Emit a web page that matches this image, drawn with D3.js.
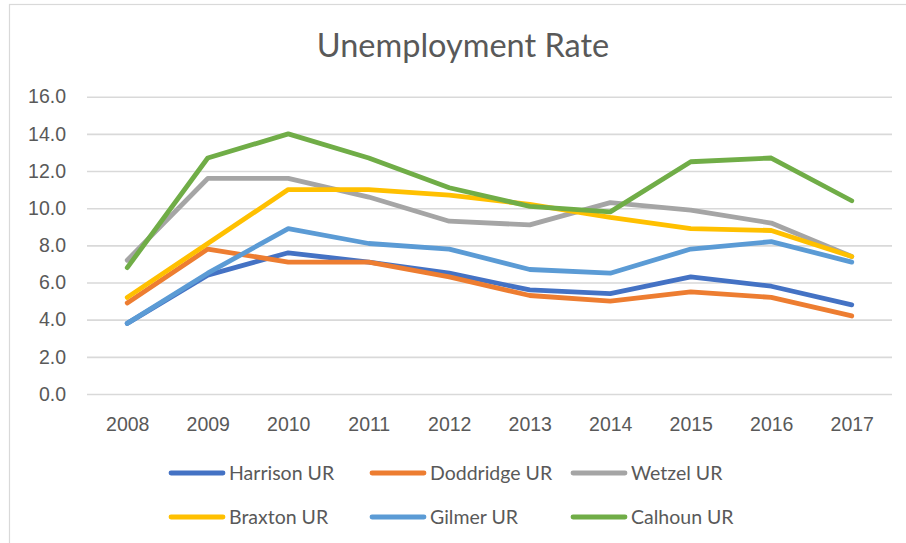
<!DOCTYPE html>
<html>
<head>
<meta charset="utf-8">
<script src="https://cdn.jsdelivr.net/npm/d3@7"></script>
<style>
  body { margin: 0; background: #fff; }
  svg { display: block; font-family: Lato, "Open Sans", sans-serif; }
  .tick text { fill: #595959; font-size: 19.5px; }
</style>
</head>
<body>
<svg id="chart" width="906" height="543"></svg>
<script>
// data
const years = ["2008", "2009", "2010", "2011", "2012", "2013", "2014", "2015", "2016", "2017"]
const harrison = [3.8, 6.4, 7.6, 7.1, 6.5, 5.6, 5.4, 6.3, 5.8, 4.8]
const doddridge = [4.9, 7.8, 7.1, 7.1, 6.3, 5.3, 5.0, 5.5, 5.2, 4.2]
const wetzel = [7.2, 11.6, 11.6, 10.6, 9.3, 9.1, 10.3, 9.9, 9.2, 7.4]
const braxton = [5.2, 8.1, 11.0, 11.0, 10.7, 10.2, 9.5, 8.9, 8.8, 7.4]
const gilmer = [3.8, 6.5, 8.9, 8.1, 7.8, 6.7, 6.5, 7.8, 8.2, 7.1]
const calhoun = [6.8, 12.7, 14.0, 12.7, 11.1, 10.1, 9.8, 12.5, 12.7, 10.4]
const seriesNames = ["Harrison UR", "Doddridge UR", "Wetzel UR", "Braxton UR", "Gilmer UR", "Calhoun UR"]
const yTicks = [0, 2, 4, 6, 8, 10, 12, 14, 16]

const colors = ["#4472C4", "#ED7D31", "#A5A5A5", "#FFC000", "#5B9BD5", "#70AD47"]
const series = [harrison, doddridge, wetzel, braxton, gilmer, calhoun]
  .map((values, i) => ({ name: seriesNames[i], color: colors[i], values }))

const svg = d3.select("#chart")

// chart frame
svg.append("rect")
  .attr("x", 9.5).attr("y", 4.5)
  .attr("width", 930).attr("height", 560)
  .attr("fill", "none").attr("stroke", "#d9d9d9").attr("stroke-width", 1.2)

const plotLeft = 87, plotRight = 892, plotTop = 96.7, plotBottom = 394

const x = d3.scalePoint().domain(years).range([plotLeft, plotRight]).padding(0.5)
const y = d3.scaleLinear().domain([0, 16]).range([plotBottom, plotTop])

// y axis + gridlines
const yAxis = svg.append("g")
  .attr("transform", `translate(${plotLeft},0)`)
  .call(d3.axisLeft(y).tickValues(yTicks).tickSize(-(plotRight - plotLeft)).tickPadding(21).tickFormat(d3.format(".1f")))
yAxis.select(".domain").remove()
yAxis.selectAll(".tick line").attr("stroke", "#d9d9d9").attr("stroke-width", 1.6)

// x axis labels
const xAxis = svg.append("g")
  .attr("transform", `translate(0,${plotBottom})`)
  .call(d3.axisBottom(x).tickSize(0).tickPadding(23))
xAxis.select(".domain").remove()

// lines
const line = d3.line()
  .x((d, i) => x(years[i]))
  .y(d => y(d))

svg.append("g")
  .selectAll("path")
  .data(series)
  .join("path")
  .attr("d", d => line(d.values))
  .attr("fill", "none")
  .attr("stroke", d => d.color)
  .attr("stroke-width", 4.8)
  .attr("stroke-linecap", "round")
  .attr("stroke-linejoin", "round")

// title
svg.append("text")
  .attr("x", 463).attr("y", 57)
  .attr("text-anchor", "middle")
  .attr("fill", "#595959")
  .attr("font-size", 32.5)
  .text("Unemployment Rate")

// legend, 3 per row
const legend = svg.append("g")
  .selectAll("g")
  .data(series)
  .join("g")
  .attr("transform", (d, i) => `translate(${171 + (i % 3) * 201},${473 + Math.floor(i / 3) * 44})`)

legend.append("line")
  .attr("x1", 0).attr("x2", 52)
  .attr("stroke", d => d.color)
  .attr("stroke-width", 4.8)
  .attr("stroke-linecap", "round")

legend.append("text")
  .attr("x", 58).attr("y", 7)
  .attr("fill", "#595959")
  .attr("font-size", 19.5)
  .text(d => d.name)
</script>
</body>
</html>
